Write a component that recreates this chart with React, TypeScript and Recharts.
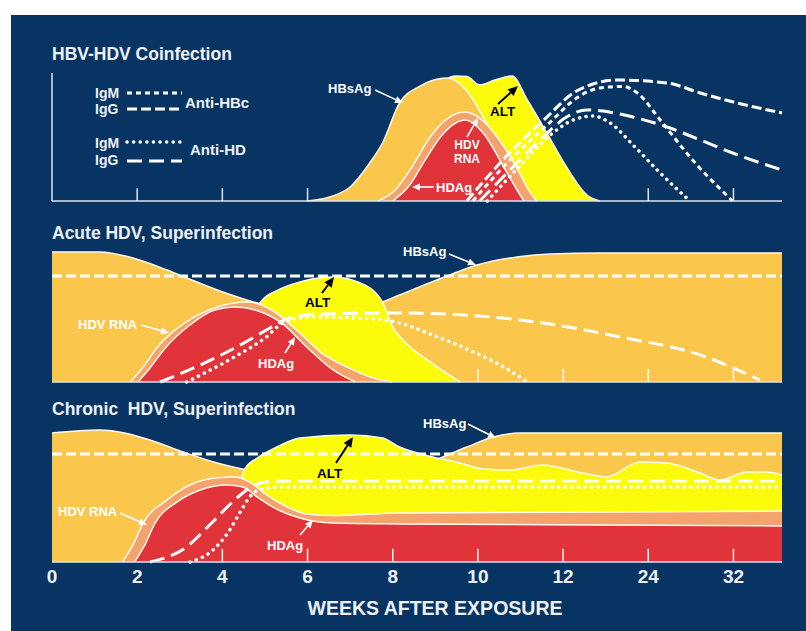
import { Area, ComposedChart, Line, ReferenceLine, XAxis, YAxis } from "recharts";

const NAVY = "#083464";
const ORANGE = "#fac64c";
const YELLOW = "#fcfc0a";
const SALMON = "#f4a36c";
const RED = "#e0333a";
const INK = "#eef2f7";
const AXIS = "#dde5f0";
const FONT = '"Liberation Sans", Arial, Helvetica, sans-serif';

// x is the position on the week axis (one unit per tick), y is a relative level 0-100
const WEEK_TICKS = [0, 1, 2, 3, 4, 5, 6, 7, 8];
const WEEK_LABELS = ["0", "2", "4", "6", "8", "10", "12", "24", "32"];
const X_END = 8.57;

type Pt = [number, number];

// HBV-HDV coinfection
const coHBsAg: Pt[] = [[2.99, 0], [3.26, 3.1], [3.5, 10.9], [3.73, 29.7], [3.88, 45.3], [4.08, 76.6], [4.32, 89.8], [4.64, 96.1], [4.79, 91.4], [4.93, 80.5], [5.08, 63.3], [5.26, 39.8], [5.43, 12.5], [5.52, 0]];
const coALT: Pt[] = [[3.97, 0], [4.32, 47.7], [4.55, 88.3], [4.73, 97.7], [4.87, 97.3], [5.02, 90.6], [5.2, 94.5], [5.4, 97.7], [5.58, 78.9], [5.81, 53.1], [6.04, 26.6], [6.28, 4.7], [6.43, 0]];
const coHDVRNA: Pt[] = [[3.83, 0], [4.03, 8.6], [4.24, 28.1], [4.44, 50], [4.65, 64.8], [4.85, 69.5], [5.02, 64.8], [5.26, 46.9], [5.47, 24.2], [5.61, 7], [5.69, 0]];
const coHDAg: Pt[] = [[4.0, 0], [4.2, 12.5], [4.38, 32], [4.58, 51.6], [4.85, 63.3], [5.08, 51.6], [5.29, 28.1], [5.46, 8.6], [5.54, 0]];
const coIgGHBc: Pt[] = [[4.87, 0], [5.26, 29.7], [5.81, 65.6], [6.12, 84.4], [6.35, 91.4], [6.63, 94.5], [7.22, 92.2], [7.61, 84.4], [8.0, 77.3], [8.57, 68.8]];
const coIgMHBc: Pt[] = [[4.94, 0], [5.32, 28.1], [5.85, 61.7], [6.16, 80.5], [6.43, 88.3], [6.7, 89.5], [6.88, 84], [7.14, 63.3], [7.52, 32], [7.99, 0]];
const coIgGHD: Pt[] = [[5.02, 0], [5.4, 25.8], [5.79, 51.6], [6.04, 65.6], [6.28, 71.1], [6.82, 65.6], [7.22, 57.8], [7.61, 47.7], [7.99, 37.5], [8.57, 24.2]];
const coIgMHD: Pt[] = [[5.11, 0], [5.47, 25.8], [5.85, 51.6], [6.12, 63.3], [6.35, 66.4], [6.57, 60.2], [6.82, 43.8], [7.14, 21.9], [7.49, 0]];

// acute HDV superinfection
const acHBsAg: Pt[] = [[0, 98.5], [0.56, 98.5], [0.95, 93.9], [1.35, 84.8], [1.58, 78.8], [1.94, 69.7], [2.41, 59.8], [2.91, 53], [3.38, 52.3], [3.88, 60.6], [4.08, 65.9], [4.67, 81.1], [4.99, 88.6], [5.46, 94.7], [5.85, 97], [6.43, 97.7], [8.57, 97.7]];
const acALT: Pt[] = [[2.07, 0], [2.27, 31.8], [2.44, 59.8], [2.68, 70.5], [2.91, 75.8], [3.3, 79.5], [3.62, 75], [3.88, 60.6], [4.0, 41.7], [4.12, 31.8], [4.44, 15.2], [4.79, 0]];
const acHDVRNA: Pt[] = [[0.92, 0], [1.09, 12.9], [1.23, 25.8], [1.58, 45.5], [1.94, 56.8], [2.3, 60.6], [2.56, 55.3], [2.91, 37.1], [3.15, 22.7], [3.46, 11.4], [3.77, 3], [3.99, 0]];
const acHDAg: Pt[] = [[1.01, 0], [1.15, 10.6], [1.33, 25.8], [1.62, 43.2], [1.91, 54.5], [2.15, 56.8], [2.42, 53.8], [2.68, 45.5], [2.99, 26.5], [3.3, 9.1], [3.56, 0]];
const acIgGHBc: Pt[] = [[0, 80.3], [8.57, 80.3]];
const acIgGHD: Pt[] = [[1.27, 0], [1.74, 12.9], [2.21, 28], [2.56, 40.9], [2.79, 48.5], [3.15, 51.5], [4.08, 52.3], [5.02, 50], [5.85, 43.9], [6.67, 34.1], [7.61, 20.5], [8.31, 1.5]];
const acIgMHD: Pt[] = [[1.58, 0], [2.12, 18.2], [2.5, 33.3], [2.73, 45.5], [3.03, 49.2], [3.62, 48.5], [4.08, 44.7], [4.47, 35.6], [4.87, 25], [5.26, 12.9], [5.58, 0]];

// chronic HDV superinfection
const chHBsAg: Pt[] = [[0, 97.7], [0.56, 100], [1.15, 92.4], [1.54, 83.3], [1.94, 75], [2.29, 69.7], [2.91, 63.6], [3.85, 65.2], [4.44, 75.8], [4.87, 87.1], [5.18, 94.7], [5.49, 97.7], [8.57, 97.7]];
const chALT: Pt[] = [[1.91, 0], [2.15, 47], [2.27, 71.2], [2.41, 78.8], [2.64, 87.1], [2.91, 93.9], [3.5, 96.2], [3.88, 93.9], [4.08, 87.1], [4.47, 79.5], [4.79, 75], [5.06, 70.5], [5.38, 69.7], [5.76, 73.5], [6.23, 67.4], [6.51, 64.4], [6.9, 75.8], [7.22, 75], [7.61, 67.4], [7.84, 62.1], [8.16, 68.2], [8.39, 68.2], [8.57, 65.9]];
const chHDVRNA: Pt[] = [[0.83, 0], [0.95, 12.9], [1.07, 29.5], [1.35, 47], [1.62, 58.3], [1.91, 63.6], [2.15, 64.4], [2.32, 60.6], [2.52, 50.8], [2.76, 41.7], [2.99, 36.4], [3.3, 35.2], [4.08, 37.1], [8.57, 38.6]];
const chHDAg: Pt[] = [[0.97, 0], [1.09, 12.9], [1.21, 29.5], [1.47, 45.5], [1.74, 54.5], [2.05, 58.3], [2.24, 56.8], [2.41, 49.2], [2.59, 41.7], [2.91, 33.3], [3.3, 29.5], [4.08, 28.8], [8.57, 27.3]];
const chIgGHBc: Pt[] = [[0, 81.8], [8.57, 81.8]];
const chIgGHD: Pt[] = [[1.15, 0], [1.58, 11.4], [1.85, 28], [2.12, 45.5], [2.32, 56.1], [2.5, 60.6], [2.79, 61.4], [8.57, 61.4]];
const chIgMHD: Pt[] = [[1.62, 0], [1.89, 9.1], [2.07, 22.7], [2.21, 37.9], [2.32, 49.2], [2.46, 55.3], [2.73, 56.8], [8.57, 56.8]];

const CO_TICKS = [1, 2, 3, 7, 8];
const AC_TICKS = [5, 6, 7, 8];
const CH_TICKS = [2, 3, 4, 5, 6, 7, 8];

// one row per x, each series only where it has a point (areas/lines use connectNulls)
function toRows(series: Record<string, Pt[]>) {
  const byX = new Map<number, Record<string, number>>();
  for (const [key, pts] of Object.entries(series)) {
    for (const [x, y] of pts) {
      const row = byX.get(x) ?? { x };
      row[key] = y;
      byX.set(x, row);
    }
  }
  return [...byX.values()].sort((a, b) => a.x - b.x);
}

const coRows = toRows({ hbs: coHBsAg, alt: coALT, rna: coHDVRNA, ag: coHDAg, iggHbc: coIgGHBc, igmHbc: coIgMHBc, iggHd: coIgGHD, igmHd: coIgMHD });
const acRows = toRows({ hbs: acHBsAg, alt: acALT, rna: acHDVRNA, ag: acHDAg, iggHbc: acIgGHBc, iggHd: acIgGHD, igmHd: acIgMHD });
const chRows = toRows({ hbs: chHBsAg, alt: chALT, rna: chHDVRNA, ag: chHDAg, iggHbc: chIgGHBc, iggHd: chIgGHD, igmHd: chIgMHD });

const DASH_IGM_HBC = "5 4";
const DASH_IGG_HBC = "10 4";
const DASH_IGG_HD = "15 7";
const DASH_IGM_HD = "0.1 6.5";

const areaProps = {
  type: "monotone" as const,
  stroke: "#fffaf0",
  strokeWidth: 1.5,
  fillOpacity: 1,
  connectNulls: true,
  dot: false,
  activeDot: false,
  isAnimationActive: false,
};

const lineProps = {
  type: "monotone" as const,
  stroke: "#ffffff",
  strokeWidth: 3,
  connectNulls: true,
  dot: false,
  activeDot: false,
  isAnimationActive: false,
};

function Arrow({ x1, y1, x2, y2, color = "#ffffff", w = 1.6, head = 8 }: { x1: number; y1: number; x2: number; y2: number; color?: string; w?: number; head?: number }) {
  const a = Math.atan2(y2 - y1, x2 - x1);
  const bx = x2 - head * Math.cos(a);
  const by = y2 - head * Math.sin(a);
  const s = head * 0.45;
  const p1 = `${bx + s * Math.sin(a)},${by - s * Math.cos(a)}`;
  const p2 = `${bx - s * Math.sin(a)},${by + s * Math.cos(a)}`;
  return (
    <g>
      <line x1={x1} y1={y1} x2={bx} y2={by} stroke={color} strokeWidth={w} />
      <polygon points={`${x2},${y2} ${p1} ${p2}`} fill={color} />
    </g>
  );
}

const label = { fontFamily: FONT, fontWeight: 700, fontSize: 13, fill: "#ffffff" };
const altLabel = { ...label, fill: "#000000", fontSize: 13.5 };
const title = { fontFamily: FONT, fontWeight: 700, fontSize: 17.5, fill: INK };

export default function App() {
  return (
    <div style={{ position: "absolute", left: 0, top: 0, width: 806, height: 631, background: "#ffffff", overflow: "hidden" }}>
      <div style={{ position: "absolute", left: 11, top: 15, width: 795, height: 616, background: NAVY }} />

      <div style={{ position: "absolute", left: 0, top: 0 }}>
        <ComposedChart width={806} height={210} data={coRows} margin={{ top: 73, right: 24, bottom: 9, left: 52 }}>
          <XAxis type="number" dataKey="x" domain={[0, X_END]} hide />
          <YAxis type="number" domain={[0, 100]} hide />
          {CO_TICKS.map((t) => (
            <ReferenceLine key={t} segment={[{ x: t, y: 0 }, { x: t, y: 10 }]} stroke={AXIS} strokeWidth={1.5} />
          ))}
          <Area {...areaProps} dataKey="alt" fill={YELLOW} />
          <Area {...areaProps} dataKey="hbs" fill={ORANGE} />
          <Area {...areaProps} dataKey="rna" fill={SALMON} />
          <Area {...areaProps} dataKey="ag" fill={RED} />
          <Line {...lineProps} dataKey="iggHbc" strokeDasharray={DASH_IGG_HBC} />
          <Line {...lineProps} dataKey="igmHbc" strokeDasharray={DASH_IGM_HBC} />
          <Line {...lineProps} dataKey="iggHd" strokeDasharray={DASH_IGG_HD} />
          <Line {...lineProps} dataKey="igmHd" strokeDasharray={DASH_IGM_HD} strokeLinecap="round" strokeWidth={3.5} />
          <ReferenceLine x={0} stroke={AXIS} strokeWidth={1.5} />
          <ReferenceLine y={0} stroke={AXIS} strokeWidth={1.5} />
        </ComposedChart>
      </div>

      <div style={{ position: "absolute", left: 0, top: 210 }}>
        <ComposedChart width={806} height={182} data={acRows} margin={{ top: 40, right: 24, bottom: 10, left: 52 }}>
          <XAxis type="number" dataKey="x" domain={[0, X_END]} hide />
          <YAxis type="number" domain={[0, 100]} hide />
          <Area {...areaProps} dataKey="hbs" fill={ORANGE} />
          <Area {...areaProps} dataKey="alt" fill={YELLOW} />
          <Area {...areaProps} dataKey="rna" fill={SALMON} />
          <Area {...areaProps} dataKey="ag" fill={RED} />
          {AC_TICKS.map((t) => (
            <ReferenceLine key={t} segment={[{ x: t, y: 0 }, { x: t, y: 10 }]} stroke="#fffaf0" strokeWidth={1.5} />
          ))}
          <Line {...lineProps} dataKey="iggHbc" strokeDasharray={DASH_IGG_HBC} />
          <Line {...lineProps} dataKey="iggHd" strokeDasharray={DASH_IGG_HD} />
          <Line {...lineProps} dataKey="igmHd" strokeDasharray={DASH_IGM_HD} strokeLinecap="round" strokeWidth={3.5} />
          <ReferenceLine y={0} stroke={AXIS} strokeWidth={1.5} />
        </ComposedChart>
      </div>

      <div style={{ position: "absolute", left: 0, top: 392 }}>
        <ComposedChart width={806} height={239} data={chRows} margin={{ top: 38, right: 24, bottom: 39, left: 52 }}>
          <XAxis
            type="number"
            dataKey="x"
            domain={[0, X_END]}
            ticks={WEEK_TICKS}
            tickFormatter={(v) => WEEK_LABELS[v] ?? ""}
            tickLine={false}
            tickSize={0}
            tickMargin={8}
            height={30}
            axisLine={{ stroke: AXIS, strokeWidth: 1.5 }}
            tick={{ fill: INK, fontSize: 19, fontWeight: 700, fontFamily: FONT }}
            interval={0}
          />
          <YAxis type="number" domain={[0, 100]} hide />
          <Area {...areaProps} dataKey="hbs" fill={ORANGE} />
          <Area {...areaProps} dataKey="alt" fill={YELLOW} />
          <Area {...areaProps} dataKey="rna" fill={SALMON} />
          <Area {...areaProps} dataKey="ag" fill={RED} />
          {CH_TICKS.map((t) => (
            <ReferenceLine key={t} segment={[{ x: t, y: 0 }, { x: t, y: 10 }]} stroke="#fffaf0" strokeWidth={1.5} />
          ))}
          <Line {...lineProps} dataKey="iggHbc" strokeDasharray={DASH_IGG_HBC} />
          <Line {...lineProps} dataKey="iggHd" strokeDasharray={DASH_IGG_HD} />
          <Line {...lineProps} dataKey="igmHd" strokeDasharray={DASH_IGM_HD} strokeLinecap="round" strokeWidth={3.5} />
        </ComposedChart>
      </div>

      <svg width={806} height={631} style={{ position: "absolute", left: 0, top: 0, pointerEvents: "none" }}>
        <text x={52} y={60} style={title}>HBV-HDV Coinfection</text>
        <text x={52} y={239} style={title}>Acute HDV, Superinfection</text>
        <text x={52} y={415} style={title} xmlSpace="preserve">Chronic  HDV, Superinfection</text>
        <text x={435} y={615} textAnchor="middle" style={{ ...title, fontSize: 19.5 }}>WEEKS AFTER EXPOSURE</text>

        {/* antibody key */}
        <g style={{ fontFamily: FONT, fontWeight: 700, fontSize: 14, fill: INK }}>
          <text x={95} y={98}>IgM</text>
          <text x={95} y={114}>IgG</text>
          <text x={185} y={108} style={{ fontSize: 15 }}>Anti-HBc</text>
          <text x={95} y={148}>IgM</text>
          <text x={95} y={165}>IgG</text>
          <text x={190} y={155} style={{ fontSize: 15 }}>Anti-HD</text>
        </g>
        <line x1={127} y1={93} x2={182} y2={93} stroke="#fff" strokeWidth={3} strokeDasharray={DASH_IGM_HBC} />
        <line x1={127} y1={109} x2={182} y2={109} stroke="#fff" strokeWidth={3} strokeDasharray={DASH_IGG_HBC} />
        <line x1={127} y1={142} x2={182} y2={142} stroke="#fff" strokeWidth={3.5} strokeDasharray={DASH_IGM_HD} strokeLinecap="round" />
        <line x1={127} y1={161} x2={182} y2={161} stroke="#fff" strokeWidth={3} strokeDasharray={DASH_IGG_HD} />

        {/* coinfection labels */}
        <text x={328} y={93} style={label}>HBsAg</text>
        <Arrow x1={375} y1={90} x2={403} y2={103} />
        <text x={490} y={116} style={altLabel}>ALT</text>
        <Arrow x1={498} y1={104} x2={518} y2={86} color="#000" w={2} head={10} />
        <text x={467} y={149} textAnchor="middle" style={{ ...label, fontSize: 12 }}>HDV</text>
        <text x={467} y={163} textAnchor="middle" style={{ ...label, fontSize: 12 }}>RNA</text>
        <Arrow x1={467} y1={137} x2={478} y2={118} />
        <text x={436} y={192} style={label}>HDAg</text>
        <Arrow x1={434} y1={187} x2={412} y2={187} />

        {/* acute labels */}
        <text x={403} y={256} style={label}>HBsAg</text>
        <Arrow x1={449} y1={254} x2={476} y2={265} />
        <text x={305} y={307} style={altLabel}>ALT</text>
        <Arrow x1={322} y1={293} x2={334} y2={277} color="#000" w={2} head={10} />
        <text x={78} y={329} style={label}>HDV RNA</text>
        <Arrow x1={141} y1={325} x2={169} y2={333} />
        <text x={258} y={368} style={label}>HDAg</text>
        <Arrow x1={285} y1={353} x2={295} y2={337} />

        {/* chronic labels */}
        <text x={423} y={428} style={label}>HBsAg</text>
        <Arrow x1={468} y1={424} x2={496} y2={438} />
        <text x={317} y={478} style={altLabel}>ALT</text>
        <Arrow x1={336} y1={463} x2={353} y2={437} color="#000" w={2} head={10} />
        <text x={58} y={516} style={label}>HDV RNA</text>
        <Arrow x1={120} y1={513} x2={147} y2={525} />
        <text x={267} y={550} style={label}>HDAg</text>
        <Arrow x1={300} y1={535} x2={313} y2={520} />
      </svg>
    </div>
  );
}
